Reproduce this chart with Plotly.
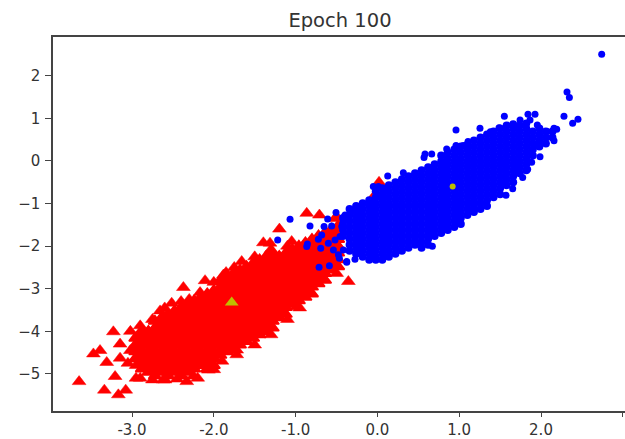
import plotly.graph_objects as go

# Red class: columns of points (x, [y values])
red_columns = [
    (-2.96, [-4.64, -4.48, -4.32, -4.16]),
    (-2.88, [-4.88, -4.72, -4.56, -4.40, -4.24, -4.08, -3.98]),
    (-2.80, [-4.96, -4.80, -4.64, -4.48, -4.32, -4.16, -4.00]),
    (-2.72, [-5.04, -4.88, -4.72, -4.56, -4.40, -4.24, -4.08, -3.92, -3.76]),
    (-2.64, [-4.96, -4.80, -4.64, -4.48, -4.32, -4.16, -4.00, -3.84, -3.68]),
    (-2.56, [-5.04, -4.88, -4.72, -4.56, -4.40, -4.24, -4.08, -3.92, -3.76, -3.60]),
    (-2.48, [-4.96, -4.80, -4.64, -4.48, -4.32, -4.16, -4.00, -3.84, -3.68, -3.52]),
    (-2.40, [-5.04, -4.88, -4.72, -4.56, -4.40, -4.24, -4.08, -3.92, -3.76, -3.60, -3.44]),
    (-2.32, [-4.96, -4.80, -4.64, -4.48, -4.32, -4.16, -4.00, -3.84, -3.68, -3.52, -3.36]),
    (-2.24, [-4.88, -4.72, -4.56, -4.40, -4.24, -4.08, -3.92, -3.76, -3.60, -3.44, -3.28]),
    (-2.16, [-4.80, -4.64, -4.48, -4.32, -4.16, -4.00, -3.84, -3.68, -3.52, -3.36, -3.20]),
    (-2.08, [-4.88, -4.72, -4.56, -4.40, -4.24, -4.08, -3.92, -3.76, -3.60, -3.44, -3.28, -3.12]),
    (-2.00, [-4.80, -4.64, -4.48, -4.32, -4.16, -4.00, -3.84, -3.68, -3.52, -3.36, -3.20, -3.04]),
    (-1.92, [-4.56, -4.40, -4.24, -4.08, -3.92, -3.76, -3.60, -3.44, -3.28, -3.12, -2.96, -2.80]),
    (-1.84, [-4.48, -4.32, -4.16, -4.00, -3.84, -3.68, -3.52, -3.36, -3.20, -3.04, -2.88, -2.72]),
    (-1.76, [-4.40, -4.24, -4.08, -3.92, -3.76, -3.60, -3.44, -3.28, -3.12, -2.96, -2.80, -2.64]),
    (-1.68, [-4.32, -4.16, -4.00, -3.84, -3.68, -3.52, -3.36, -3.20, -3.04, -2.88, -2.72, -2.56]),
    (-1.60, [-4.24, -4.08, -3.92, -3.76, -3.60, -3.44, -3.28, -3.12, -2.96, -2.80, -2.64, -2.48]),
    (-1.52, [-4.16, -4.00, -3.84, -3.68, -3.52, -3.36, -3.20, -3.04, -2.88, -2.72, -2.56, -2.40]),
    (-1.44, [-4.08, -3.92, -3.76, -3.60, -3.44, -3.28, -3.12, -2.96, -2.80, -2.64, -2.48, -2.32]),
    (-1.36, [-4.00, -3.84, -3.68, -3.52, -3.36, -3.20, -3.04, -2.88, -2.72, -2.56, -2.40, -2.24]),
    (-1.28, [-3.92, -3.76, -3.60, -3.44, -3.28, -3.12, -2.96, -2.80, -2.64, -2.48, -2.32, -2.16]),
    (-1.20, [-3.68, -3.52, -3.36, -3.20, -3.04, -2.88, -2.72, -2.56, -2.40, -2.24]),
    (-1.12, [-3.60, -3.44, -3.28, -3.12, -2.96, -2.80, -2.64, -2.48, -2.32, -2.16]),
    (-1.04, [-3.36, -3.20, -3.04, -2.88, -2.72, -2.56, -2.40, -2.24, -2.08]),
    (-0.96, [-3.28, -3.12, -2.96, -2.80, -2.64, -2.48, -2.32, -2.16, -2.00]),
    (-0.88, [-3.20, -3.04, -2.88, -2.72, -2.56, -2.40, -2.24, -2.08, -1.92]),
    (-0.80, [-3.12, -2.96, -2.80, -2.64, -2.48, -2.32, -2.16, -2.00, -1.84]),
    (-0.72, [-2.88, -2.72, -2.56, -2.40, -2.24, -2.08, -1.92, -1.76]),
    (-0.64, [-2.80, -2.64, -2.48, -2.32, -2.16, -2.00, -1.84, -1.68]),
    (-0.56, [-2.56, -2.40, -2.24, -2.08, -1.92, -1.76, -1.60]),
    (-0.48, [-2.48, -2.32, -2.16, -2.00, -1.84, -1.68, -1.52]),
]
red_outliers_x = [-3.647, -3.472, -3.391, -3.228, -3.309, -3.146, -3.146, -3.207, -3.338, -3.167,
                  -3.077, -2.951, -2.596, -2.331, -2.197, -2.372, -2.107, -2.168, -2.515, -2.657,
                  -0.355, -0.864, -0.709, -1.198, -1.394, -1.313, -1.048, -1.659, -1.883, -0.498,
                  -0.498, -0.987, -1.720, -2.066, 0.02, -0.03, -0.518,
                  -2.90, -2.75, -2.62, -2.45, -2.25, -2.00, -1.90, -1.72, -1.50, -1.30, -1.10, -0.95,
                  -3.02, -2.90, -2.75, -2.60, -2.40, -2.30, -2.00, -1.85, -1.75, -1.50, -1.30, -1.10,
                  -2.95, -3.02, -3.05]
red_outliers_y = [-5.18, -4.53, -4.45, -4.01, -4.73, -4.30, -4.63, -5.06, -5.38, -5.49,
                  -5.38, -5.10, -5.14, -5.18, -5.10, -2.97, -2.81, -3.09, -3.34, -3.52,
                  -2.83, -1.23, -1.27, -1.60, -1.92, -1.93, -1.89, -2.36, -2.68, -1.31,
                  -2.64, -3.42, -4.44, -4.91, -0.50, -0.80, -1.35,
                  -5.10, -5.14, -5.14, -5.12, -5.05, -4.90, -4.70, -4.55, -4.32, -4.08, -3.72, -3.45,
                  -4.00, -3.87, -3.72, -3.45, -3.30, -3.25, -2.85, -2.62, -2.50, -2.25, -2.08, -2.00,
                  -4.80, -4.45, -4.75]

# Blue class
blue_columns = [
    (-0.42, [-1.76, -1.62, -1.48, -1.34]),
    (-0.34, [-2.11, -1.97, -1.83, -1.69, -1.55, -1.41, -1.27, -1.13]),
    (-0.26, [-2.18, -2.04, -1.90, -1.76, -1.62, -1.48, -1.34, -1.20, -1.06]),
    (-0.18, [-2.25, -2.11, -1.97, -1.83, -1.69, -1.55, -1.41, -1.27, -1.13, -0.99]),
    (-0.10, [-2.32, -2.18, -2.04, -1.90, -1.76, -1.62, -1.48, -1.34, -1.20, -1.06, -0.92]),
    (-0.02, [-2.32, -2.25, -2.11, -1.97, -1.83, -1.69, -1.55, -1.41, -1.27, -1.13, -0.99, -0.85, -0.71]),
    (0.06, [-2.32, -2.18, -2.04, -1.90, -1.76, -1.62, -1.48, -1.34, -1.20, -1.06, -0.92, -0.78, -0.64]),
    (0.14, [-2.25, -2.11, -1.97, -1.83, -1.69, -1.55, -1.41, -1.27, -1.13, -0.99, -0.85, -0.71, -0.57]),
    (0.22, [-2.18, -2.04, -1.90, -1.76, -1.62, -1.48, -1.34, -1.20, -1.06, -0.92, -0.78, -0.64, -0.50]),
    (0.30, [-2.11, -1.97, -1.83, -1.69, -1.55, -1.41, -1.27, -1.13, -0.99, -0.85, -0.71, -0.57, -0.43]),
    (0.38, [-2.04, -1.90, -1.76, -1.62, -1.48, -1.34, -1.20, -1.06, -0.92, -0.78, -0.64, -0.50, -0.36]),
    (0.46, [-1.97, -1.83, -1.69, -1.55, -1.41, -1.27, -1.13, -0.99, -0.85, -0.71, -0.57, -0.43, -0.29]),
    (0.54, [-2.04, -1.90, -1.76, -1.62, -1.48, -1.34, -1.20, -1.06, -0.92, -0.78, -0.64, -0.50, -0.36, -0.22]),
    (0.62, [-1.97, -1.83, -1.69, -1.55, -1.41, -1.27, -1.13, -0.99, -0.85, -0.71, -0.57, -0.43, -0.29, -0.15]),
    (0.70, [-1.76, -1.62, -1.48, -1.34, -1.20, -1.06, -0.92, -0.78, -0.64, -0.50, -0.36, -0.22, -0.08]),
    (0.78, [-1.69, -1.55, -1.41, -1.27, -1.13, -0.99, -0.85, -0.71, -0.57, -0.43, -0.29, -0.15, -0.01, 0.13]),
    (0.86, [-1.62, -1.48, -1.34, -1.20, -1.06, -0.92, -0.78, -0.64, -0.50, -0.36, -0.22, -0.08, 0.06, 0.20]),
    (0.94, [-1.55, -1.41, -1.27, -1.13, -0.99, -0.85, -0.71, -0.57, -0.43, -0.29, -0.15, -0.01, 0.13, 0.27]),
    (1.02, [-1.48, -1.34, -1.20, -1.06, -0.92, -0.78, -0.64, -0.50, -0.36, -0.22, -0.08, 0.06, 0.20, 0.34]),
    (1.10, [-1.27, -1.13, -0.99, -0.85, -0.71, -0.57, -0.43, -0.29, -0.15, -0.01, 0.13, 0.27, 0.38]),
    (1.18, [-1.20, -1.06, -0.92, -0.78, -0.64, -0.50, -0.36, -0.22, -0.08, 0.06, 0.20, 0.34, 0.48]),
    (1.26, [-1.13, -0.99, -0.85, -0.71, -0.57, -0.43, -0.29, -0.15, -0.01, 0.13, 0.27, 0.41, 0.55]),
    (1.34, [-1.06, -0.92, -0.78, -0.64, -0.50, -0.36, -0.22, -0.08, 0.06, 0.20, 0.34, 0.48, 0.62]),
    (1.42, [-0.85, -0.71, -0.57, -0.43, -0.29, -0.15, -0.01, 0.13, 0.27, 0.41, 0.55, 0.69]),
    (1.50, [-0.78, -0.64, -0.50, -0.36, -0.22, -0.08, 0.06, 0.20, 0.34, 0.48, 0.62, 0.76]),
    (1.58, [-0.57, -0.43, -0.29, -0.15, -0.01, 0.13, 0.27, 0.41, 0.55, 0.69, 0.83]),
    (1.66, [-0.50, -0.36, -0.22, -0.08, 0.06, 0.20, 0.34, 0.48, 0.62, 0.76, 0.86]),
    (1.74, [-0.29, -0.15, -0.01, 0.13, 0.27, 0.41, 0.55, 0.69, 0.83]),
    (1.82, [-0.22, -0.08, 0.06, 0.20, 0.34, 0.48, 0.62, 0.76, 0.88]),
    (1.90, [0.13, 0.27, 0.41, 0.55, 0.69]),
    (1.98, [0.34, 0.48, 0.62, 0.76]),
    (2.06, [0.41, 0.55, 0.69]),
    (2.14, [0.55, 0.69]),
]
blue_outliers_x = [2.742, 2.318, 2.347, 2.281, 2.452, 2.387, 1.552, 1.841, 1.927, 1.866,
                   1.955, 0.961, 1.254, 1.381, 1.487, 1.108, 0.961, 0.847, 1.05, 0.582,
                   0.664, 0.57, 0.317, 0.126, 0.012, -0.05, 1.988, 1.886, 1.837, 1.776,
                   1.654, 1.572, 2.159, 2.192, 2.159, 2.07, 1.947, 1.744, 0.672, -0.274,
                   -0.375, -0.465, -1.068, -1.219, -0.824, -0.608, -0.506, -0.396, -0.559, -0.652,
                   -0.681, -0.722, -0.856, -0.864, -0.693, -0.6, -0.538, -0.477, -0.713, -0.587,
                   -0.375, -0.457, -0.518, -0.416, -0.315, -0.436]
blue_outliers_y = [2.504, 1.62, 1.49, 1.05, 0.98, 0.885, 1.05, 1.095, 1.095, 0.96,
                   0.845, 0.728, 0.767, 0.688, 0.78, 0.454, 0.36, 0.28, 0.36, 0.165,
                   0.165, 0.08, -0.274, -0.352, -0.60, -0.60, 0.10, -0.03, -0.196, -0.39,
                   -0.65, -0.806, 0.767, 0.743, 0.477, 0.69, 0.375, 0.96, -2.0, -2.31,
                   -2.38, -2.285, -1.369, -1.854, -1.525, -1.36, -1.212, -1.27, -1.525, -1.54,
                   -1.737, -1.838, -1.948, -2.01, -2.05, -1.93, -2.09, -2.2, -2.495, -2.46,
                   -2.36, -1.775, -1.854, -2.09, -1.15, -1.54]

red_center = (-1.781, -3.325)
blue_center = (0.92, -0.60)

title_text = "Epoch 100"
x_tick_vals = [-3, -2, -1, 0, 1, 2, 3]
x_tick_text = ["-3.0", "-2.0", "-1.0", "0.0", "1.0", "2.0", "3.0"]
y_tick_vals = [-5, -4, -3, -2, -1, 0, 1, 2]
y_tick_text = ["\u22125", "\u22124", "\u22123", "\u22122", "\u22121", "0", "1", "2"]

red_core_x = [x for x, ys in red_columns for _ in ys]
red_core_y = [y for _, ys in red_columns for y in ys]
blue_core_x = [x for x, ys in blue_columns for _ in ys]
blue_core_y = [y for _, ys in blue_columns for y in ys]

RED = "#ff0000"
BLUE = "#0000ff"
fig = go.Figure()
fig.add_trace(go.Scatter(x=red_core_x, y=red_core_y, mode="markers",
                         marker=dict(symbol="triangle-up", size=11, color=RED,
                                     line=dict(color=RED, width=1.6))))
fig.add_trace(go.Scatter(x=red_outliers_x, y=red_outliers_y, mode="markers",
                         marker=dict(symbol="triangle-up", size=12, color=RED,
                                     line=dict(color=RED, width=0.5))))
fig.add_trace(go.Scatter(x=blue_core_x, y=blue_core_y, mode="markers",
                         marker=dict(symbol="circle", size=8, color=BLUE)))
fig.add_trace(go.Scatter(x=blue_outliers_x, y=blue_outliers_y, mode="markers",
                         marker=dict(symbol="circle", size=7, color=BLUE)))
fig.add_trace(go.Scatter(x=[red_center[0]], y=[red_center[1]], mode="markers",
                         marker=dict(symbol="triangle-up", size=12, color="#bfbf00")))
fig.add_trace(go.Scatter(x=[blue_center[0]], y=[blue_center[1]], mode="markers",
                         marker=dict(symbol="circle", size=6, color="#bfbf00")))

fig.update_layout(
    width=625, height=439, autosize=False,
    margin=dict(l=53, r=0, t=37, b=28, pad=0),
    paper_bgcolor="white", plot_bgcolor="white", showlegend=False,
    font=dict(family="DejaVu Sans", color="#333333", size=15),
    title=dict(text=title_text, x=340 / 625, xanchor="center", y=1 - 20 / 439, yanchor="middle",
               font=dict(size=19.5, color="#333333"), automargin=False),
)
fig.update_xaxes(range=[-3.966, 3.027], tickmode="array", tickvals=x_tick_vals, ticktext=x_tick_text,
                 showgrid=False, zeroline=False, showline=True, linecolor="#444444", linewidth=1.5,
                 mirror=True, ticks="outside", ticklen=4, tickcolor="#444444", tickwidth=1,
                 ticklabelstandoff=0, automargin=False)
fig.update_yaxes(range=[-5.87, 2.91], tickmode="array", tickvals=y_tick_vals, ticktext=y_tick_text,
                 showgrid=False, zeroline=False, showline=True, linecolor="#444444", linewidth=1.5,
                 ticks="outside", ticklen=6, tickcolor="#444444", tickwidth=1,
                 ticklabelstandoff=2, automargin=False)

fig.write_html("out.html", config={"displayModeBar": False},
               post_script="document.body.style.margin='0';document.body.style.overflow='hidden';")
